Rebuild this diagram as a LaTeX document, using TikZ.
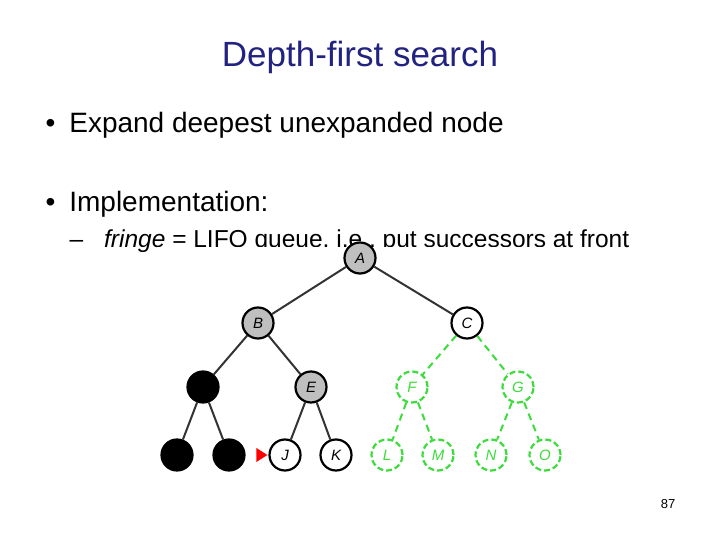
\documentclass[tikz,border=0pt]{standalone}
\usepackage{fontspec}
\setmainfont{Liberation Sans}
\usetikzlibrary{positioning}
\definecolor{navy}{RGB}{34,34,128}
\definecolor{grn}{RGB}{60,220,60}
\tikzset{vert/.style={draw,circle,line width=2.2pt,minimum size=31pt,inner sep=0pt,font=\itshape\fontsize{15}{15}\selectfont}}
\tikzset{seen/.style={vert,fill=black!25}}
\tikzset{done/.style={vert,fill=black}}
\tikzset{front/.style={vert,fill=white}}
\tikzset{fresh/.style={vert,draw=grn,text=grn,dash pattern=on 6pt off 3pt}}
\tikzset{ed/.style={line width=2pt,black!80}}
\tikzset{ged/.style={line width=2pt,grn,dash pattern=on 7pt off 5pt}}
\begin{document}
\begin{tikzpicture}[x=1pt,y=-1pt]
  \useasboundingbox (0,0) rectangle (720,540);
  \node[navy,font=\fontsize{35}{35}\selectfont] (title) at (360,57) {Depth-first search};
  \node[anchor=west,font=\fontsize{28}{28}\selectfont] (b1) at (42,125) {\textbullet\hspace{14pt}Expand deepest unexpanded node};
  \node[anchor=west,font=\fontsize{28}{28}\selectfont] (b2) at (42,204) {\textbullet\hspace{14pt}Implementation:};
  \node[anchor=west,font=\fontsize{24.5}{24.5}\selectfont] (b3) at (66,241) {--\hspace{21pt}\textit{fringe} = LIFO queue, i.e., put successors at front};
  % tree picture pasted over the text
  \fill[white] (157,247) rectangle (565,478);

  \node[seen] (A) at (360,258) {A};
  \node[seen] (B) at (258,323) {B};
  \node[front] (C) at (467,323) {C};
  \node[done] (D) at (203,387) {};
  \node[seen] (E) at (311,387) {E};
  \node[fresh] (F) at (412,387) {F};
  \node[fresh] (G) at (518,387) {G};
  \node[done] (H) at (177,455) {};
  \node[done] (I) at (229,455) {};
  \node[front] (J) at (285,455) {J};
  \node[front] (K) at (336,455) {K};
  \node[fresh] (L) at (387,455) {L};
  \node[fresh] (M) at (438,455) {M};
  \node[fresh] (N) at (491,455) {N};
  \node[fresh] (O) at (545,455) {O};

  \draw[ed] (A) -- (B);
  \draw[ed] (A) -- (C);
  \draw[ed] (B) -- (D);
  \draw[ed] (B) -- (E);
  \draw[ed] (D) -- (H);
  \draw[ed] (D) -- (I);
  \draw[ed] (E) -- (J);
  \draw[ed] (E) -- (K);
  \draw[ged] (C) -- (F);
  \draw[ged] (C) -- (G);
  \draw[ged] (F) -- (L);
  \draw[ged] (F) -- (M);
  \draw[ged] (G) -- (N);
  \draw[ged] (G) -- (O);

  \coordinate (mark) at ([xshift=-1pt]J.west);
  \fill[red] (mark) -- ++(-11,-7) -- ++(0,14) -- cycle;

  \node[font=\fontsize{13}{13}\selectfont] (page) at (668,504) {87};
\end{tikzpicture}
\end{document}
